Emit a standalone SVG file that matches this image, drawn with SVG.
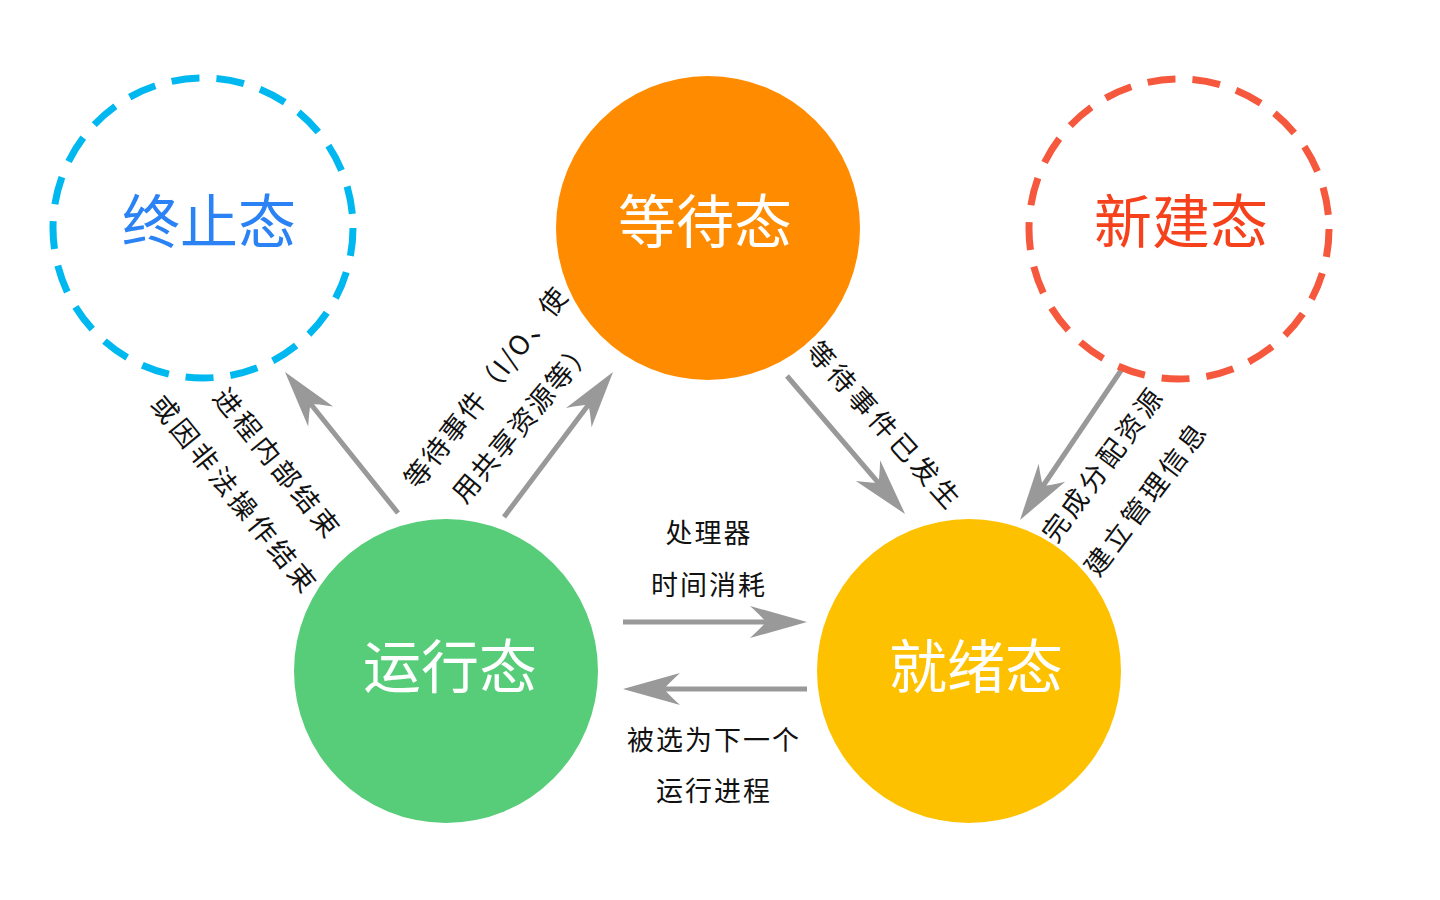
<svg xmlns="http://www.w3.org/2000/svg" width="1440" height="900" viewBox="0 0 1440 900">
<defs>
<style>
.big{font-family:"Noto Sans CJK SC","Noto Sans",sans-serif;font-size:58px;text-anchor:middle;dominant-baseline:central;}
.lbl{font-family:"Noto Sans CJK SC","Noto Sans",sans-serif;font-size:27px;fill:#111;dominant-baseline:central;}
.ctr{text-anchor:middle;letter-spacing:2px;}
.rot{text-anchor:middle;letter-spacing:4px;}
.conn{stroke:#999999;stroke-width:5;fill:none;marker-end:url(#ah);}
</style>
<marker id="ah" markerUnits="userSpaceOnUse" markerWidth="80" markerHeight="80" refX="0" refY="0" orient="auto" overflow="visible">
<path d="M35,0 L-22,-16 Q-10,-5 -6,0 Q-10,5 -22,16 Z" fill="#999999"/>
</marker>
</defs>
<rect width="1440" height="900" fill="#ffffff"/>

<g id="connectors">
<line class="conn" x1="398" y1="513" x2="306.9" y2="399.3"/>
<line class="conn" x1="504" y1="517" x2="592" y2="400"/>
<line class="conn" x1="787" y1="376" x2="882.3" y2="487.4"/>
<line class="conn" x1="1122" y1="369" x2="1039.6" y2="491"/>
<line class="conn" x1="623" y1="622" x2="772" y2="622"/>
<line class="conn" x1="807" y1="689" x2="658" y2="689"/>
</g>

<g id="node-terminated">
<circle cx="203" cy="228" r="150" fill="none" stroke="#00b8f0" stroke-width="7" stroke-dasharray="28 17"/>
<text class="big" x="209" y="218" fill="#2a82f5">终止态</text>
</g>
<g id="node-waiting">
<circle cx="708" cy="228" r="152" fill="#ff8c00"/>
<text class="big" x="705" y="218" fill="#ffffff">等待态</text>
</g>
<g id="node-new">
<circle cx="1179" cy="229" r="150" fill="none" stroke="#f5583c" stroke-width="7" stroke-dasharray="28 17"/>
<text class="big" x="1181" y="218" fill="#f5411c">新建态</text>
</g>
<g id="node-running">
<circle cx="446" cy="671" r="152" fill="#57cd79"/>
<text class="big" x="450" y="663" fill="#ffffff">运行态</text>
</g>
<g id="node-ready">
<circle cx="969" cy="671" r="152" fill="#fdc100"/>
<text class="big" x="976" y="663" fill="#ffffff">就绪态</text>
</g>

<g id="labels">
<text class="lbl rot" transform="translate(279,463) rotate(51)">进程内部结束</text>
<text class="lbl rot" transform="translate(236,494) rotate(51)">或因非法操作结束</text>
<text class="lbl" style="letter-spacing:2px" transform="translate(408.7,483.6) rotate(-52)">等待事件（I/O、使</text>
<text class="lbl" style="letter-spacing:2px" transform="translate(456.5,497.5) rotate(-50)">用共享资源等）</text>
<text class="lbl rot" transform="translate(886,425) rotate(48)">等待事件已发生</text>
<text class="lbl rot" transform="translate(1102,463) rotate(-53.5)">完成分配资源</text>
<text class="lbl rot" transform="translate(1145,497) rotate(-53)">建立管理信息</text>
<text class="lbl ctr" x="709" y="531">处理器</text>
<text class="lbl ctr" x="709" y="583">时间消耗</text>
<text class="lbl ctr" x="714" y="738">被选为下一个</text>
<text class="lbl ctr" x="714" y="789">运行进程</text>
</g>
</svg>
